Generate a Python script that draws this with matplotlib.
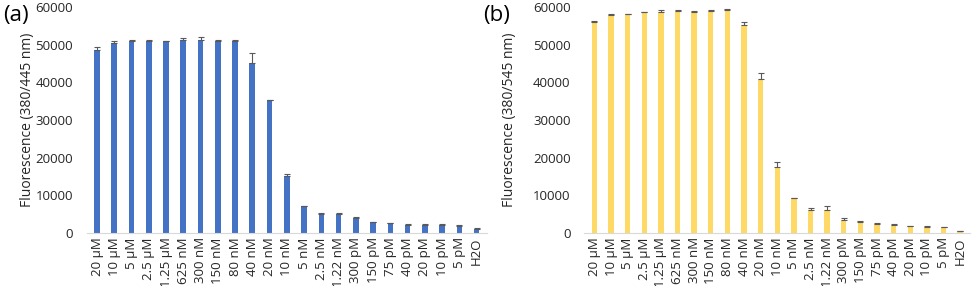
import matplotlib.pyplot as plt
import numpy as np

plt.rcParams['font.family'] = ['Open Sans', 'DejaVu Sans']

labels = ['20 µM', '10 µM', '5 µM', '2.5 µM', '1.25 µM', '625 nM', '300 nM', '150 nM',
          '80 nM', '40 nM', '20 nM', '10 nM', '5 nM', '2.5 nM', '1.22 nM', '300 pM',
          '150 pM', '75 pM', '40 pM', '20 pM', '10 pM', '5 pM', 'H2O']

# (a) 380/445 nm
vals_a = [48700, 50600, 50900, 51000, 51000, 51400, 51300, 51100, 51000, 45200, 35300,
          15100, 7100, 5100, 5100, 4000, 2850, 2650, 2250, 2250, 2250, 1950, 1100]
err_a = [700, 300, 500, 250, 100, 400, 700, 250, 300, 2500, 100,
         700, 150, 150, 150, 300, 150, 100, 100, 100, 100, 100, 150]

# (b) 380/545 nm
vals_b = [56100, 57900, 58100, 58600, 58800, 58900, 58800, 59100, 59300, 55200, 41000,
          17600, 9200, 6200, 6000, 3500, 2900, 2500, 2100, 1800, 1700, 1500, 500]
err_b = [150, 150, 200, 200, 400, 300, 200, 200, 200, 900, 1500,
         1300, 150, 500, 1200, 400, 400, 150, 200, 150, 150, 200, 150]

fig = plt.figure(figsize=(9.74, 2.86), dpi=100)
ax1 = fig.add_axes([0.089, 0.185, 0.411, 0.79])
ax2 = fig.add_axes([0.600, 0.185, 0.396, 0.79])

x = np.arange(len(labels))
panels = [(ax1, vals_a, err_a, '#4472C4', 'Fluorescence (380/445 nm)', -0.129),
          (ax2, vals_b, err_b, '#FFD966', 'Fluorescence (380/545 nm)', -0.175)]
for ax, vals, err, col, ylab, lx in panels:
    ax.bar(x, vals, width=0.33, color=col, zorder=2)
    ax.errorbar(x, vals, yerr=[np.zeros(len(err)), err], fmt='none', ecolor='#595959',
                elinewidth=0.8, capsize=2.5, capthick=0.8, zorder=3)
    ax.set_ylim(0, 60000)
    ax.set_xlim(-0.6, len(labels) - 0.4)
    ax.set_yticks(np.arange(0, 60001, 10000))
    ax.set_xticks(x)
    ax.set_xticklabels(labels, rotation=90, fontsize=9.5, color='#262626')
    ax.tick_params(axis='y', length=0, labelsize=9.5, labelcolor='#262626', pad=10)
    ax.tick_params(axis='x', length=0, pad=3)
    for s in ['top', 'right', 'left']:
        ax.spines[s].set_visible(False)
    ax.spines['bottom'].set_color('#D9D9D9')
    ax.set_ylabel(ylab, fontsize=10, color='#262626')
    ax.yaxis.set_label_coords(lx, 0.5)

fig.text(0.003, 0.945, '(a)', fontsize=16, va='center', ha='left')
fig.text(0.496, 0.945, '(b)', fontsize=16, va='center', ha='left')

fig.savefig('out.png', dpi=100)
